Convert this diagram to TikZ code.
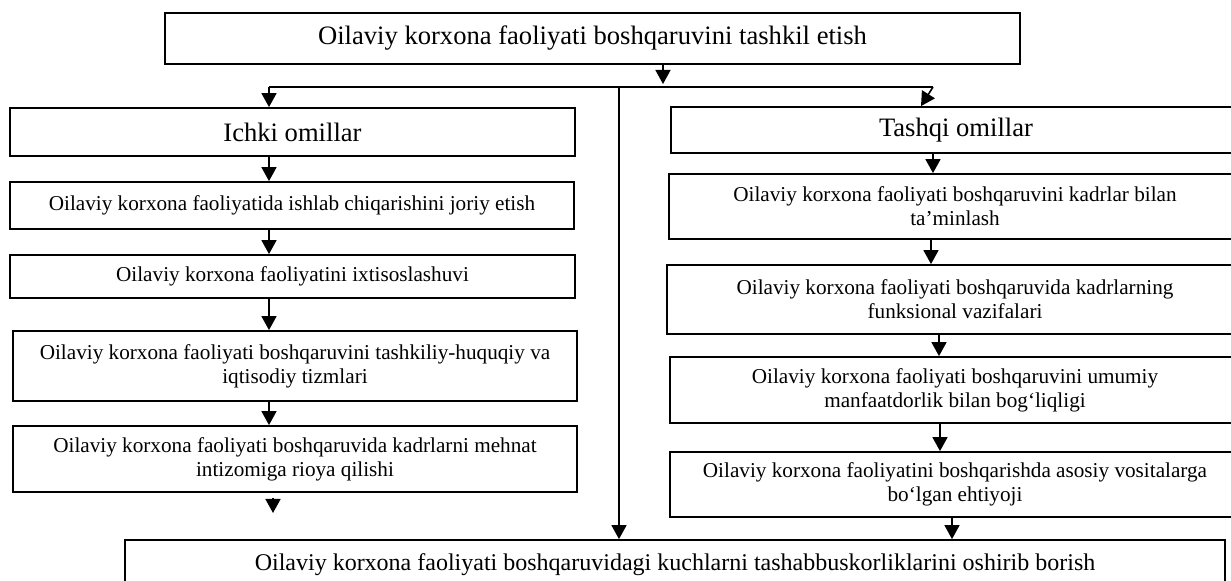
\documentclass[tikz,border=0pt]{standalone}
\usepackage{fontspec}
\setmainfont{Liberation Serif}
\usepackage{tikz}
\usetikzlibrary{positioning}
\usetikzlibrary{arrows.meta}

\begin{document}
\begin{tikzpicture}[x=0.5pt, y=-0.5pt]
		% ------- style -------
		\tikzset{%
			block/.style={%
				draw, line width=0.9pt,
				inner sep=0pt, align=center,
				font=\fontsize{10.6}{12}\selectfont,
			},
			head/.style={%
				block,
				font=\fontsize{13.3}{15}\selectfont,
			},
			arr/.style={%
				line width=0.8pt,
				-{Triangle[width=7.5pt, length=7pt]},
			},
		}
		\useasboundingbox (0,0) rectangle (1231,581);
		
		% ------- boxes -------
		\node[head, minimum width=427.5pt, minimum height=25.5pt] (top) at (592.5,38.5)
			{Oilaviy korxona faoliyati boshqaruvini tashkil etish};
		
		\node[head, minimum width=282.5pt, minimum height=24pt] (ichki) at (292.5,132) {Ichki omillar};
		\node[block, minimum width=282pt, minimum height=23.5pt] (L1) at (292,205.5)
			{Oilaviy korxona faoliyatida ishlab chiqarishini joriy etish};
		\node[block, minimum width=282.5pt, minimum height=21.5pt] (L2) at (292.5,276.5)
			{Oilaviy korxona faoliyatini ixtisoslashuvi};
		\node[block, minimum width=282pt, minimum height=35pt] (L3) at (295,366)
			{Oilaviy korxona faoliyati boshqaruvini tashkiliy-huquqiy va\\ iqtisodiy tizmlari};
		\node[block, minimum width=282pt, minimum height=33pt] (L4) at (295,459)
			{Oilaviy korxona faoliyati boshqaruvida kadrlarni mehnat\\ intizomiga rioya qilishi};
		
		\node[head, minimum width=285pt, minimum height=23pt] (tashqi) at (956,130) {Tashqi omillar};
		\node[block, minimum width=286pt, minimum height=32.5pt] (R1) at (955,206.5)
			{Oilaviy korxona faoliyati boshqaruvini kadrlar bilan\\ ta’minlash};
		\node[block, minimum width=288pt, minimum height=34.5pt] (R2) at (955,299.5)
			{Oilaviy korxona faoliyati boshqaruvida kadrlarning\\ funksional vazifalari};
		\node[block, minimum width=285pt, minimum height=33pt] (R3) at (955,390)
			{Oilaviy korxona faoliyati boshqaruvini umumiy\\ manfaatdorlik bilan bog‘liqligi};
		\node[block, minimum width=285pt, minimum height=32.5pt] (R4) at (955,484.5)
			{Oilaviy korxona faoliyatini boshqarishda asosiy vositalarga\\ bo‘lgan ehtiyoji};
		
		\node[block, font=\fontsize{12}{14}\selectfont, minimum width=550pt, minimum height=25pt] (bottom) at (675,565)
			{Oilaviy korxona faoliyati boshqaruvidagi kuchlarni tashabbuskorliklarini oshirib borish};
		
		% ------- bus -------
		\coordinate (busL) at (269,87);
		\coordinate (busM) at (619,87);
		\coordinate (busT) at (663,84);
		\coordinate (busR) at (933,87);
		\coordinate (loose) at (273,513);
		
		\draw[line width=0.8pt] (busL) -- (busR);
		\draw[arr] (top.south -| busT) -- (busT);
		\draw[arr] (busL) -- (busL |- ichki.north);
		\draw[arr] (busM) -- (busM |- bottom.north);
		\draw[arr] (busR) -- ([xshift=-6pt]busR |- tashqi.north);
		
		% ------- chains -------
		\foreach \a/\b in {ichki/L1, L1/L2, L2/L3, L3/L4} {
			\draw[arr] (\a.south -| busL) -- (\b.north -| busL);
		}
		\draw[arr] ([yshift=-2.5pt]L4.south -| loose) -- (loose);
		
		\foreach \a/\b/\dx in {tashqi/R1/-11.5pt, R1/R2/-12pt, R2/R3/-8pt, R3/R4/-7.5pt, R4/bottom/-1.5pt} {
			\draw[arr] ([xshift=\dx]\a.south) -- ([xshift=\dx]\a.south |- \b.north);
		}
	\end{tikzpicture}
\end{document}
